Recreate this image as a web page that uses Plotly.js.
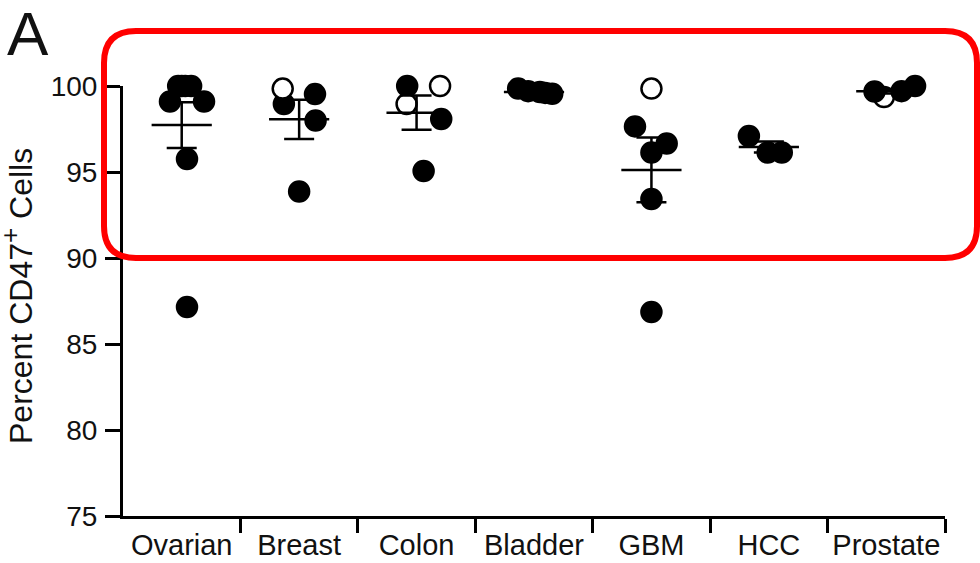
<!DOCTYPE html>
<html>
<head>
<meta charset="utf-8">
<script src="https://cdn.plot.ly/plotly-3.0.1.min.js"></script>
<style>html,body{margin:0;padding:0;background:#fff;}#chart{width:980px;height:563px;}</style>
</head>
<body>
<div id="chart"></div>
<script>
// ---- data ----
const categories = ['Ovarian', 'Breast', 'Colon', 'Bladder', 'GBM', 'HCC', 'Prostate'];
const yTicks = [75, 80, 85, 90, 95, 100];
const yTitle = 'Percent CD47<sup><span style="font-size:26px">+</span></sup> Cells';

// individual samples per category (percent CD47+ cells), in drawing order
const pointValues = [
  [100, 100, 100, 100, 99.1, 99.1, 95.76, 87.15],
  [98.95, 99.53, 97.99, 93.87, 99.85],
  [100, 98.08, 95.06, 100, 98.95],
  [99.85, 99.7, 99.65, 99.6, 99.55],
  [99.85, 97.65, 96.66, 96.13, 93.43, 86.86],
  [97.09, 96.13, 96.13],
  [99.36, 99.68, 99.7, 100.0]
];
// open (hollow) symbol flags for each sample
const pointOpen = [
  [false, false, false, false, false, false, false, false],
  [false, false, false, false, true],
  [false, false, false, true, true],
  [false, false, false, false, false],
  [true, false, false, false, false, false],
  [false, false, false],
  [true, false, false, false]
];
// horizontal scatter of each sample within its category (category units)
const pointJitter = [
  [-0.03, 0.08, 0.03, 0.0, -0.10, 0.19, 0.045, 0.045],
  [-0.13, 0.135, 0.14, 0.0, -0.14],
  [-0.08, 0.21, 0.06, 0.2, -0.085],
  [-0.135, -0.05, 0.05, 0.095, 0.155],
  [0.0, -0.14, 0.13, 0.0, 0.0, 0.0],
  [-0.17, -0.01, 0.11],
  [-0.02, -0.10, 0.13, 0.245]
];
// mean and SEM per category
const means = [97.73, 98.06, 98.45, 99.65, 95.12, 96.45, 99.70];
const sems  = [1.33, 1.14, 1.0, 0.05, 1.88, 0.32, 0.13];

// ---- build traces ----
const px = [], py = [], pfill = [];
pointValues.forEach((vals, ci) => {
  vals.forEach((v, j) => {
    px.push(ci + pointJitter[ci][j]);
    py.push(v);
    pfill.push(pointOpen[ci][j] ? '#ffffff' : '#000000');
  });
});

const catIdx = categories.map((c, i) => i);

const pointsTrace = {
  type: 'scatter', mode: 'markers',
  x: px, y: py,
  marker: { size: 20, color: pfill, line: { color: '#000', width: 2.5 } },
  cliponaxis: false, hoverinfo: 'y', showlegend: false
};

const meanTrace = {
  type: 'scatter', mode: 'markers',
  x: catIdx, y: means,
  marker: { symbol: 'line-ew', size: 43, color: '#000', line: { color: '#000', width: 2.5 } },
  error_y: { type: 'data', array: sems, visible: true, color: '#000', thickness: 2.5, width: 15 },
  cliponaxis: false, hoverinfo: 'y', showlegend: false
};

// ---- red rounded frame (pixel geometry -> paper coords) ----
const plotL = 123, plotR = 945, plotT = 86, plotB = 516;
const pw = plotR - plotL, ph = plotB - plotT;
const toX = X => (X - plotL) / pw;
const toY = Y => (plotB - Y) / ph;
const fL = 104, fR = 977, fT = 31, fB = 258, rad = 32;
const framePath = [
  'M', toX(fL + rad), toY(fT),
  'L', toX(fR - rad), toY(fT),
  'Q', toX(fR), toY(fT), toX(fR), toY(fT + rad),
  'L', toX(fR), toY(fB - rad),
  'Q', toX(fR), toY(fB), toX(fR - rad), toY(fB),
  'L', toX(fL + rad), toY(fB),
  'Q', toX(fL), toY(fB), toX(fL), toY(fB - rad),
  'L', toX(fL), toY(fT + rad),
  'Q', toX(fL), toY(fT), toX(fL + rad), toY(fT),
  'Z'
].map(v => typeof v === 'number' ? v.toFixed(5) : v).join(' ').replace(/(\d) (-?\d)/g, '$1,$2');

const FONT = 'Liberation Sans, Arial, Helvetica, sans-serif';

const layout = {
  width: 980, height: 563,
  margin: { l: plotL, r: 980 - plotR, t: plotT, b: 563 - plotB, pad: 0 },
  paper_bgcolor: '#fff', plot_bgcolor: '#fff',
  font: { family: FONT, color: '#111', size: 28 },
  showlegend: false,
  xaxis: {
    range: [-0.5, 6.5],
    tickmode: 'array', tickvals: catIdx, ticktext: categories,
    ticks: '', ticklabelstandoff: 1,
    tickfont: { family: FONT, size: 29, color: '#111' },
    showline: true, linecolor: '#000', linewidth: 3,
    showgrid: false, zeroline: false, fixedrange: true,
    minor: {
      tickmode: 'array', tickvals: catIdx.map(i => i + 0.5),
      ticks: 'outside', ticklen: 14, tickwidth: 3, tickcolor: '#000', showgrid: false
    }
  },
  yaxis: {
    range: [75, 100],
    tickmode: 'array', tickvals: yTicks,
    ticks: 'outside', ticklen: 15, tickwidth: 3, tickcolor: '#000',
    ticklabelstandoff: 2,
    tickfont: { family: FONT, size: 28, color: '#111' },
    showline: true, linecolor: '#000', linewidth: 3,
    showgrid: false, zeroline: false, fixedrange: true,
    title: { text: '' }
  },
  shapes: [{
    type: 'path', xref: 'paper', yref: 'paper', path: framePath,
    line: { color: '#ff0000', width: 6 }, fillcolor: 'rgba(0,0,0,0)', layer: 'above'
  }],
  annotations: [
    {
      text: 'A', xref: 'paper', yref: 'paper',
      x: toX(28), y: toY(34), xanchor: 'center', yanchor: 'middle',
      showarrow: false, font: { family: FONT, size: 62, color: '#111' }
    },
    {
      text: yTitle, xref: 'paper', yref: 'paper', textangle: -90,
      x: toX(17), y: toY(296), xanchor: 'center', yanchor: 'middle',
      showarrow: false, borderpad: 0, font: { family: FONT, size: 32, color: '#111' }
    }
  ]
};

Plotly.newPlot('chart', [pointsTrace, meanTrace], layout, { staticPlot: true, displayModeBar: false });
</script>
</body>
</html>
